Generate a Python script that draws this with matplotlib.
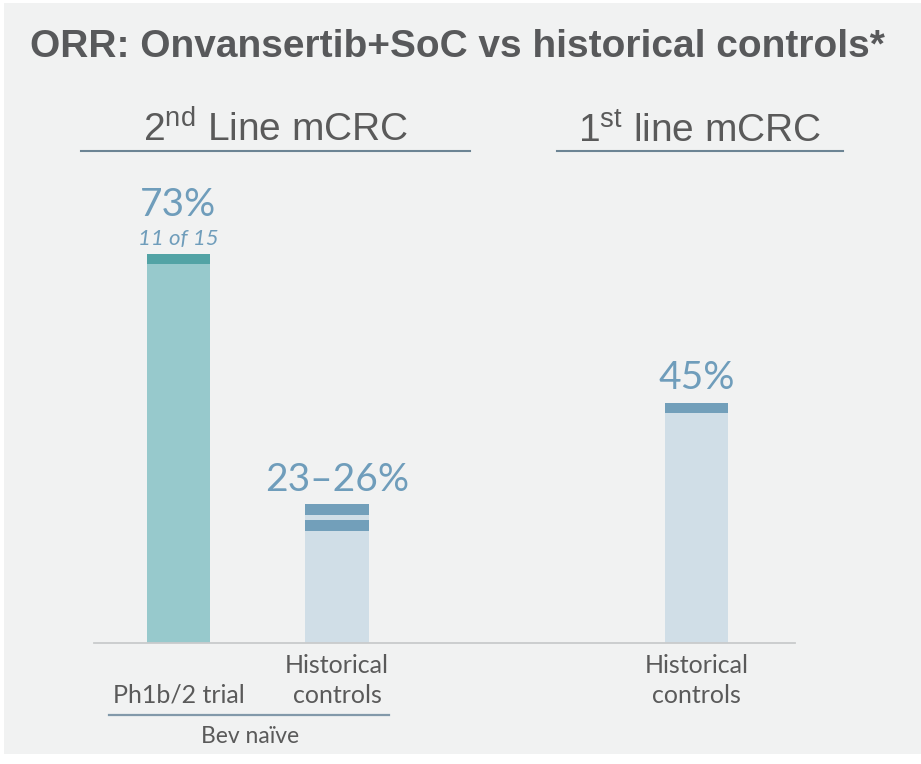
import matplotlib
matplotlib.use("Agg")
import matplotlib.pyplot as plt
from matplotlib.patches import Rectangle
from matplotlib.lines import Line2D

# ---- data ----
categories = ["Ph1b/2 trial", "Historical\ncontrols", "Historical\ncontrols"]
orr_high = [73, 26, 45]            # top of reported ORR (%)
orr_low = [None, 23, None]         # lower end when a range is reported
value_labels = ["73%", "23\u201326%", "45%"]
sub_labels = ["11 of 15", None, None]
positions = [0, 1, 3.27]
section_titles = ["2$^{\\mathrm{nd}}$ Line mCRC", "1$^{\\mathrm{st}}$ line mCRC"]
group_label = "Bev na\u00efve"
title = "ORR: Onvansertib+SoC vs historical controls*"

# ---- style ----
W, H = 921, 764
BG = "#f1f2f2"
TRIAL_FILL, TRIAL_BAND = "#97c9cc", "#52a3a5"
HIST_FILL, HIST_BAND = "#d0dee7", "#729fba"
VALUE_COLOR = "#6f9dbb"
TEXT_GRAY = "#5a5a5a"
RULE_COLOR = "#6c8494"
BAND = 1.9  # thickness of the top band in % units

plt.rcParams["mathtext.fontset"] = "custom"
plt.rcParams["mathtext.rm"] = "Liberation Sans"

fig = plt.figure(figsize=(W / 100, H / 100), dpi=100)
fig.patch.set_facecolor("white")
fig.add_artist(Rectangle((4 / W, 10 / H), 1 - 4 / W, 1 - 13 / H,
                         transform=fig.transFigure, facecolor=BG,
                         edgecolor="none", zorder=0))


def fx(x):
    return x / W


def fy(y):
    return 1 - y / H


# axes: baseline at y=643 px, spans x 94..795 px
ax = fig.add_axes([fx(94), fy(643), (795 - 94) / W, 533 / H])
ax.set_facecolor("none")
ax.set_xlim(-0.533, 3.89)
ax.set_ylim(0, 100)
for s in ("top", "right", "left"):
    ax.spines[s].set_visible(False)
ax.spines["bottom"].set_color("#c9cbcc")
ax.spines["bottom"].set_linewidth(1.3)
ax.set_xticks([])
ax.set_yticks([])

width = 0.4
for i, (pos, hi, lo) in enumerate(zip(positions, orr_high, orr_low)):
    fill, band = (TRIAL_FILL, TRIAL_BAND) if i == 0 else (HIST_FILL, HIST_BAND)
    ax.bar(pos, hi, width=width, color=fill, zorder=2)
    ax.bar(pos, BAND, bottom=hi - BAND, width=width, color=band, zorder=3)
    if lo is not None:
        ax.bar(pos, BAND, bottom=lo - BAND, width=width, color=band, zorder=3)

    if sub_labels[i]:
        ax.annotate(sub_labels[i], (pos, hi), xytext=(0, 6.5),
                    textcoords="offset points", ha="center", va="baseline",
                    fontsize=16, style="italic", family="Lato",
                    color=VALUE_COLOR)
        ax.annotate(value_labels[i], (pos, hi), xytext=(0, 27),
                    textcoords="offset points", ha="center", va="baseline",
                    fontsize=28, family="Lato", color=VALUE_COLOR)
    else:
        ax.annotate(value_labels[i], (pos, hi), xytext=(0, 10),
                    textcoords="offset points", ha="center", va="baseline",
                    fontsize=28, family="Lato", color=VALUE_COLOR)

    # category label, lines stacked upward from a common baseline
    lines = categories[i].split("\n")
    for k, line in enumerate(reversed(lines)):
        ax.annotate(line, (pos, 0), xytext=(0, -43 + k * 21.6),
                    textcoords="offset points", ha="center", va="baseline",
                    fontsize=18, family="Lato", color=TEXT_GRAY,
                    annotation_clip=False)

# group bracket under the 2nd-line bars
fig.add_artist(Line2D([fx(109), fx(389)], [fy(715), fy(715)],
                      color="#8299aa", lw=1.6))
fig.text(fx(250), fy(743), group_label, ha="center", va="baseline",
         fontsize=16.5, family="Lato", color=TEXT_GRAY)

# section headers with underlines
header_spans = [(81, 470), (557, 843)]
for txt, (x0, x1) in zip(section_titles, header_spans):
    fig.text(fx((x0 + x1) / 2), fy(142), txt, ha="center", va="baseline",
             fontsize=28, family="Liberation Sans", color=TEXT_GRAY)
    fig.add_artist(Line2D([fx(x0), fx(x1)], [fy(151), fy(151)],
                          color=RULE_COLOR, lw=1.5))

fig.text(fx(457), fy(57), title, ha="center", va="baseline",
         fontsize=28, family="Liberation Sans", fontweight="bold",
         color="#58595b")

fig.savefig("out.png", dpi=100, facecolor=fig.get_facecolor())
